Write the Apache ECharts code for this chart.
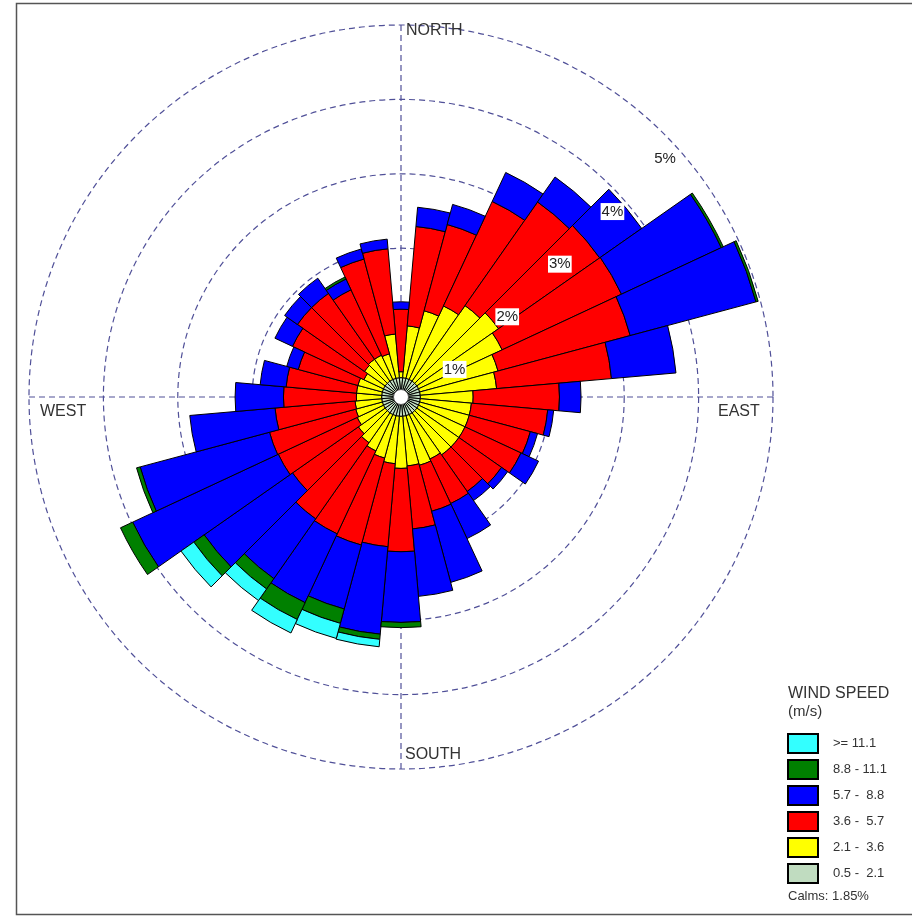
<!DOCTYPE html>
<html>
<head>
<meta charset="utf-8">
<script src="https://cdn.jsdelivr.net/npm/echarts@6/dist/echarts.min.js"></script>
<style>
  html, body { margin: 0; padding: 0; background: #fff; }
  #chart { width: 912px; height: 916px; }
</style>
</head>
<body>
<div id="chart"></div>
<script>
// wind directions (degrees, clockwise from north), 10 degree sectors
const DIRECTIONS = ['0', '10', '20', '30', '40', '50', '60', '70', '80', '90', '100', '110',
  '120', '130', '140', '150', '160', '170', '180', '190', '200', '210', '220', '230',
  '240', '250', '260', '270', '280', '290', '300', '310', '320', '330', '340', '350']

// frequency (%) of each speed class per direction
const SPEED_05_21 = [0.26, 0.26, 0.26, 0.26, 0.26, 0.26, 0.26, 0.26, 0.26, 0.26, 0.26, 0.26,
  0.26, 0.26, 0.26, 0.26, 0.26, 0.26, 0.26, 0.26, 0.26, 0.26, 0.26, 0.26,
  0.26, 0.26, 0.26, 0.26, 0.26, 0.26, 0.26, 0.26, 0.26, 0.26, 0.26, 0.26]
const SPEED_21_36 = [0.08, 0.70, 0.94, 1.09, 1.24, 1.34, 1.24, 1.09, 1.03, 0.71, 0.69, 0.69,
  0.69, 0.69, 0.69, 0.66, 0.69, 0.67, 0.70, 0.64, 0.59, 0.54, 0.49, 0.44,
  0.39, 0.37, 0.36, 0.34, 0.34, 0.34, 0.29, 0.34, 0.36, 0.36, 0.34, 0.59]
const SPEED_36_57 = [0.84, 1.34, 1.20, 1.55, 1.70, 1.66, 1.77, 1.84, 1.55, 1.16, 1.03, 0.85,
  0.83, 0.70, 0.60, 0.66, 0.64, 0.85, 1.12, 1.12, 1.21, 1.23, 1.25, 1.08,
  1.17, 1.20, 1.08, 0.98, 0.95, 0.83, 1.06, 1.10, 1.08, 0.97, 1.32, 1.15]
const SPEED_57_88 = [0.10, 0.26, 0.28, 0.43, 0.41, 0.69, 1.48, 1.75, 0.87, 0.29, 0.08, 0.10,
  0.26, 0.10, 0.15, 0.52, 0.99, 0.91, 0.95, 1.18, 0.89, 1.02, 0.98, 1.45,
  2.16, 1.80, 1.15, 0.65, 0.35, 0.16, 0.26, 0.21, 0.25, 0.16, 0.14, 0.13]
const SPEED_88_111 = [0, 0, 0, 0, 0, 0, 0.03, 0.03, 0, 0, 0, 0,
  0, 0, 0, 0, 0, 0, 0.07, 0.07, 0.20, 0.25, 0.17, 0.17,
  0.18, 0.05, 0, 0, 0, 0, 0, 0, 0, 0.03, 0, 0]
const SPEED_111 = [0, 0, 0, 0, 0, 0, 0, 0, 0, 0, 0, 0,
  0, 0, 0, 0, 0, 0, 0, 0.10, 0.21, 0.20, 0.19, 0.21,
  0, 0, 0, 0, 0, 0, 0, 0, 0, 0, 0, 0]

const CLASS_NAMES = ['0.5 -  2.1', '2.1 -  3.6', '3.6 -  5.7', '5.7 -  8.8', '8.8 - 11.1', '>= 11.1']
const CLASS_COLORS = ['#c0dcc0', '#ffff00', '#ff0000', '#0000ff', '#008000', '#33ffff']
const CLASS_DATA = [SPEED_05_21, SPEED_21_36, SPEED_36_57, SPEED_57_88, SPEED_88_111, SPEED_111]

const RING_VALUES = [1, 2, 3, 4, 5]
const CALMS = 1.85

const FONT = 'Liberation Sans'
const CX = 401
const CY = 397
const R = 372
const GRID_LINE = { color: '#505098', width: 1.2, type: [6, 4] }

const chart = echarts.init(document.getElementById('chart'))

const barSeries = CLASS_NAMES.map((name, i) => ({
  name,
  type: 'bar',
  coordinateSystem: 'polar',
  polarIndex: 0,
  stack: 'speed',
  barCategoryGap: '0%',
  data: CLASS_DATA[i].map(v => (v > 0 ? v : '-')),
  itemStyle: { color: CLASS_COLORS[i], borderColor: '#000', borderWidth: 1 },
  emphasis: { disabled: true },
  animation: false,
  z: 2
}))

const compass = [
  { text: 'NORTH', x: 406, y: 23 },
  { text: 'WEST', x: 40, y: 404 },
  { text: 'EAST', x: 718, y: 404 },
  { text: 'SOUTH', x: 405, y: 747 }
]

const option = {
  backgroundColor: '#fff',
  animation: false,
  polar: [
    { center: [CX, CY], radius: R },
    { center: [CX, CY], radius: R }
  ],
  angleAxis: [
    {
      polarIndex: 0,
      type: 'category',
      data: DIRECTIONS,
      startAngle: 95,
      clockwise: true,
      axisLine: { show: false },
      axisTick: { show: false },
      axisLabel: { show: false },
      splitLine: { show: false }
    },
    {
      polarIndex: 1,
      type: 'value',
      min: 0,
      max: 360,
      interval: 90,
      startAngle: 90,
      clockwise: true,
      axisLine: { show: false },
      axisTick: { show: false },
      axisLabel: { show: false },
      splitLine: { show: true, lineStyle: GRID_LINE }
    }
  ],
  radiusAxis: [
    {
      polarIndex: 0,
      type: 'value',
      min: 0,
      max: 5,
      axisLine: { show: false },
      axisTick: { show: false },
      axisLabel: { show: false },
      splitLine: { show: false }
    },
    {
      polarIndex: 1,
      type: 'value',
      min: 0,
      max: 5,
      interval: 1,
      axisLine: { show: false },
      axisTick: { show: false },
      axisLabel: { show: false },
      splitLine: { show: true, lineStyle: GRID_LINE }
    }
  ],
  legend: {
    orient: 'vertical',
    left: 787,
    top: 733,
    padding: 0,
    itemWidth: 30,
    itemHeight: 19,
    itemGap: 5,
    icon: 'rect',
    selectedMode: false,
    data: CLASS_NAMES.slice().reverse(),
    textStyle: { fontFamily: FONT, fontSize: 13, color: '#333', padding: [0, 0, 0, 10], lineHeight: 15 }
  },
  graphic: [
    {
      type: 'rect',
      z: 0,
      shape: { x: 16.5, y: 3.5, width: 905, height: 911 },
      style: { fill: 'none', stroke: '#555', lineWidth: 1.5 }
    },
    ...compass.map(c => ({
      type: 'text',
      z: 50,
      x: c.x,
      y: c.y,
      style: { text: c.text, fontFamily: FONT, fontSize: 16, fill: '#333' }
    })),
    {
      type: 'text', z: 50, x: 788, y: 686,
      style: { text: 'WIND SPEED', fontFamily: FONT, fontSize: 16, fill: '#333' }
    },
    {
      type: 'text', z: 50, x: 788, y: 704,
      style: { text: '(m/s)', fontFamily: FONT, fontSize: 15, fill: '#333' }
    },
    {
      type: 'text', z: 50, x: 788, y: 890,
      style: { text: 'Calms: ' + CALMS.toFixed(2) + '%', fontFamily: FONT, fontSize: 13, fill: '#333' }
    },
    {
      type: 'circle', z: 60,
      shape: { cx: CX, cy: CY, r: 7.5 },
      style: { fill: '#fff', stroke: '#555', lineWidth: 1 }
    }
  ],
  series: [
    ...barSeries,
    {
      type: 'scatter',
      coordinateSystem: 'polar',
      polarIndex: 1,
      symbolSize: 0,
      silent: true,
      z: 10,
      itemStyle: { opacity: 1 },
      data: RING_VALUES.map(v => [v, 45]),
      label: {
        show: true,
        position: 'inside',
        offset: [1, 25],
        formatter: p => p.value[0] + '%',
        fontFamily: FONT,
        fontSize: 15,
        color: '#222',
        backgroundColor: '#fff',
        padding: [1, 1]
      }
    }
  ]
}

chart.setOption(option)
</script>
</body>
</html>
